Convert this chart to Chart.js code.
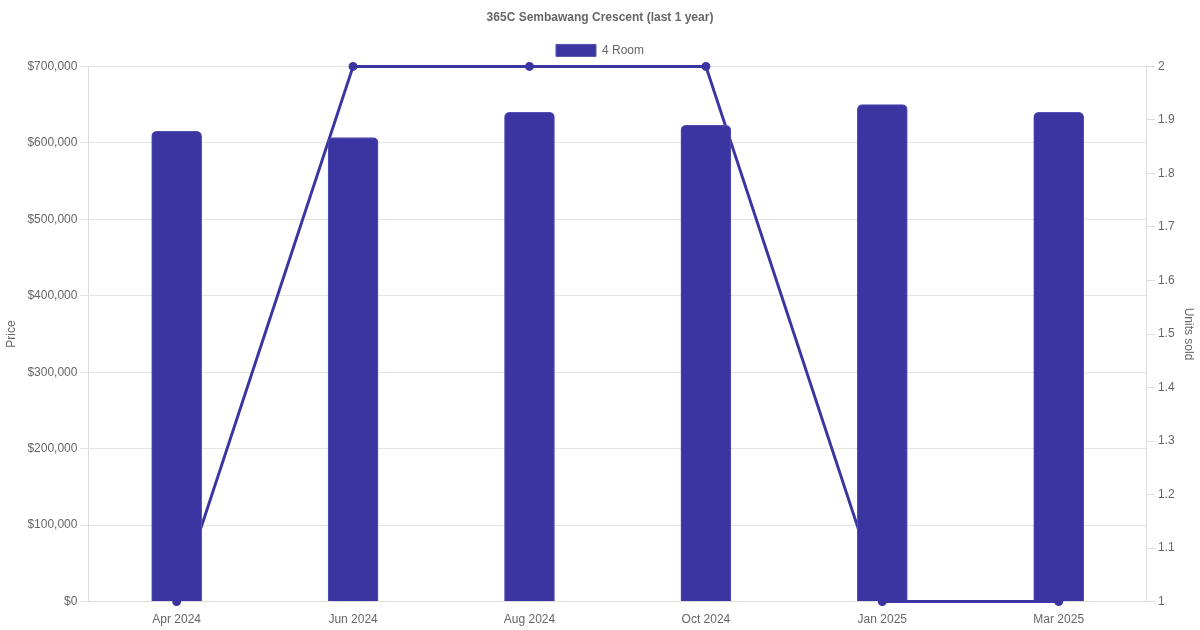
<!DOCTYPE html>
<html>
<head>
<meta charset="utf-8">
<script src="https://cdn.jsdelivr.net/npm/chart.js@4/dist/chart.umd.min.js"></script>
<style>
  html, body { margin: 0; padding: 0; background: #fff; }
  #wrap { width: 1200px; height: 630px; }
</style>
</head>
<body>
<div id="wrap"><canvas id="priceChart"></canvas></div>
<script>
// Chart data
const months = ['Apr 2024', 'Jun 2024', 'Aug 2024', 'Oct 2024', 'Jan 2025', 'Mar 2025'];
const prices = [615000, 607000, 640000, 623000, 650000, 640000];
const unitsSold = [1, 2, 2, 2, 1, 1];

const barColor = '#3a35a0';

Chart.defaults.font.family = '"Liberation Sans", Arial, Helvetica, sans-serif';
Chart.defaults.font.size = 12;
Chart.defaults.color = '#666';

const ctx = document.getElementById('priceChart').getContext('2d');
const priceChart = new Chart(ctx, {
    type: 'bar',
    data: {
        labels: months,
        datasets: [{
            type: 'bar',
            label: '4 Room',
            data: prices,
            backgroundColor: barColor,
            borderColor: '#5550b5',
            borderWidth: 1,
            borderRadius: 5,
            borderSkipped: 'bottom',
            barThickness: 50,
            yAxisID: 'y',
            order: 1
        }, {
            type: 'line',
            label: 'Units sold',
            data: unitsSold,
            borderColor: barColor,
            backgroundColor: barColor,
            borderWidth: 3,
            pointRadius: 3,
            tension: 0,
            fill: false,
            clip: false,
            yAxisID: 'y1',
            order: 2
        }]
    },
    options: {
        responsive: true,
        maintainAspectRatio: false,
        animation: false,
        layout: { padding: 0 },
        plugins: {
            title: {
                display: true,
                text: '365C Sembawang Crescent (last 1 year)',
                color: '#666',
                font: { size: 12, weight: 'bold' },
                padding: { top: 10, bottom: 10 }
            },
            legend: {
                labels: {
                    filter: item => item.text === '4 Room'
                }
            }
        },
        scales: {
            x: {
                grid: { display: false },
                border: { color: '#ddd' }
            },
            y: {
                position: 'left',
                min: 0,
                max: 700000,
                ticks: {
                    stepSize: 100000,
                    callback: v => '$' + v.toLocaleString('en-US')
                },
                title: { display: true, text: 'Price', padding: { top: 4, bottom: 6 } },
                grid: { color: '#e5e5e5' },
                border: { color: '#ddd' }
            },
            y1: {
                position: 'right',
                min: 1,
                max: 2,
                ticks: {
                    stepSize: 0.1,
                    callback: v => String(Math.round(v * 10) / 10)
                },
                title: { display: true, text: 'Units sold' },
                grid: { drawOnChartArea: false, color: '#ddd' },
                border: { color: '#ddd' }
            }
        }
    }
});
</script>
</body>
</html>
